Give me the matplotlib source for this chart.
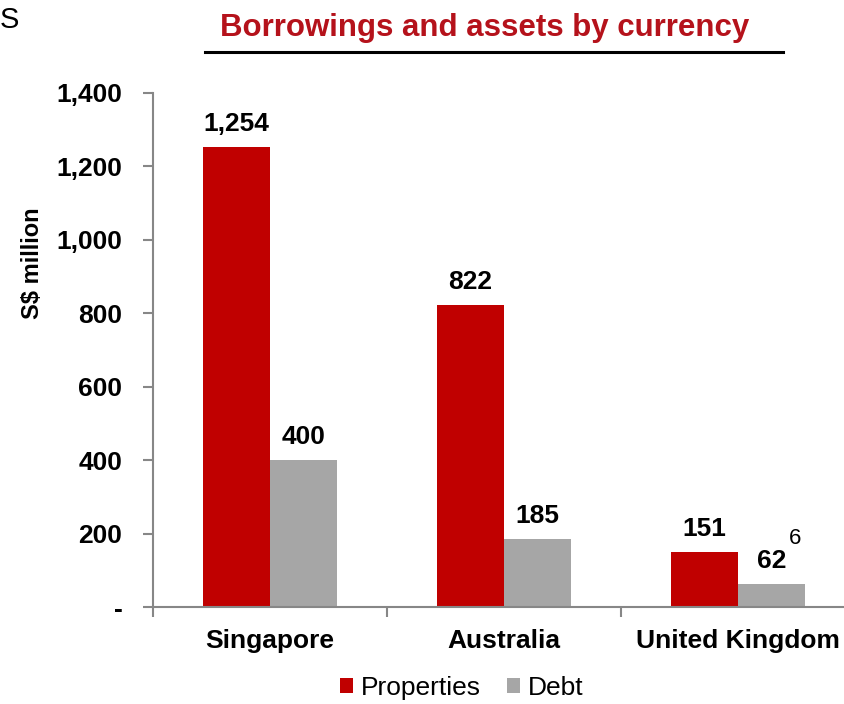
import numpy as np
import matplotlib.pyplot as plt
from matplotlib.ticker import FuncFormatter

plt.rcParams['font.family'] = ['Liberation Sans', 'DejaVu Sans']

categories = ['Singapore', 'Australia', 'United Kingdom']
properties = [1254, 822, 151]
debt = [400, 185, 62]
yticks = [0, 200, 400, 600, 800, 1000, 1200, 1400]

red = '#C00000'
grey = '#A6A6A6'
spine_col = '#878787'

fig = plt.figure(figsize=(8.44, 7.04), dpi=100)
ax = fig.add_axes([153/844, 97/704, 702/844, 514/704])

x = np.arange(len(categories))
w = 0.286
b1 = ax.bar(x - w/2, properties, w, color=red, label='Properties')
b2 = ax.bar(x + w/2, debt, w, color=grey, label='Debt')

for rect, v in zip(b1, properties):
    ax.text(rect.get_x() + rect.get_width()/2, v + 30, f'{v:,}',
            ha='center', va='bottom', fontsize=19, fontweight='bold')
for rect, v in zip(b2, debt):
    ax.text(rect.get_x() + rect.get_width()/2, v + 30, f'{v:,}',
            ha='center', va='bottom', fontsize=19, fontweight='bold')

ax.set_xlim(-0.5, 2.5)
ax.set_ylim(0, 1400)
ax.set_yticks(yticks)
ax.yaxis.set_major_formatter(FuncFormatter(lambda v, p: '-' if v == 0 else f'{int(v):,}'))
ax.set_xticks([-0.5, 0.5, 1.5, 2.5], minor=False)
ax.set_xticklabels([])
ax.set_xticks(x, minor=True)
ax.set_xticklabels(categories, minor=True, fontsize=19, fontweight='bold')
ax.tick_params(axis='x', which='minor', length=0, pad=16)
ax.tick_params(axis='x', which='major', length=7, direction='out', color=spine_col, width=1.5)
ax.tick_params(axis='y', length=7, direction='out', color=spine_col, width=1.5, pad=15,
               labelsize=19)
for lab in ax.get_yticklabels():
    lab.set_fontweight('bold')

for s in ['top', 'right']:
    ax.spines[s].set_visible(False)
for s in ['left', 'bottom']:
    ax.spines[s].set_color(spine_col)
    ax.spines[s].set_linewidth(1.5)

ax.set_ylabel('S$ million', fontsize=17, fontweight='bold', labelpad=10)
ax.yaxis.set_label_coords(-0.155, 0.669)

ax.legend(loc='upper center', bbox_to_anchor=(0.44, -0.103), ncol=2, frameon=False,
          fontsize=19, handlelength=0.5, handleheight=0.5, handletextpad=0.3,
          columnspacing=1.0, borderpad=0.1)

fig.text(485/844, 1 - 28/704, 'Borrowings and assets by currency', color='#B5121B',
         fontsize=22.5, fontweight='bold', ha='center', va='center')
fig.add_artist(plt.Line2D([205/844, 783/844], [1 - 52/704, 1 - 52/704],
                          color='black', linewidth=2.2))
fig.text(0, 1 - 20/704, 'S', fontsize=21, ha='left', va='center')
fig.text(795/844, 1 - 538/704, '6', fontsize=16, ha='center', va='center')

fig.savefig('out.png', dpi=100)
